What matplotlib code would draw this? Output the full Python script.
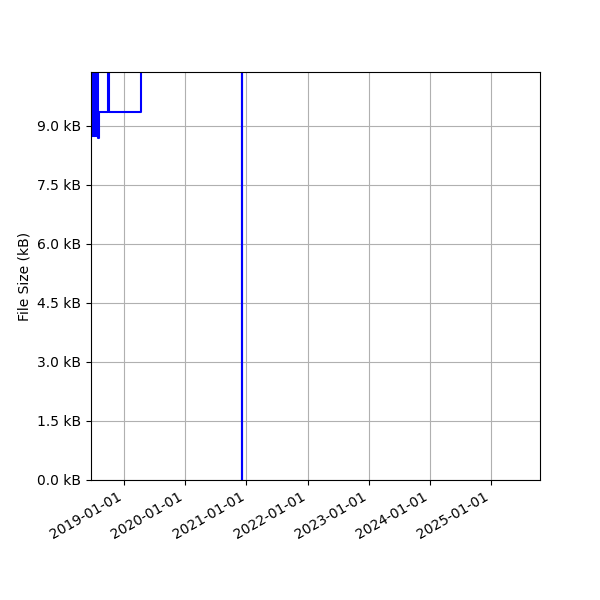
import matplotlib
matplotlib.use("Agg")
import matplotlib.pyplot as plt
import matplotlib.dates as mdates
import matplotlib.ticker as mticker
import numpy as np

# file size history (kB), step-post; values above ~10.4 run off the top
dates = ["2018-06-14", "2018-06-17", "2018-06-19", "2018-06-21", "2018-06-23",
         "2018-06-25", "2018-06-27", "2018-06-29", "2018-07-01", "2018-07-03",
         "2018-07-05", "2018-07-07", "2018-07-09", "2018-07-11", "2018-07-13",
         "2018-07-15", "2018-07-17", "2018-07-19", "2018-07-21", "2018-07-26",
         "2018-08-04", "2018-09-25", "2018-09-30", "2019-04-09",
         "2020-12-04", "2020-12-06", "2025-06-01"]
sizes_kb = [12.0, 8.74, 12.0, 8.74, 12.0,
            8.74, 12.0, 8.74, 12.0, 8.74,
            12.0, 8.74, 12.0, 8.74, 12.0,
            8.74, 12.0, 8.74, 12.0, 8.68,
            9.36, 12.0, 9.36, 12.0,
            0.0, 12.0, 12.0]

x = np.array(dates, dtype="datetime64[D]")

fig = plt.figure(figsize=(6, 6), dpi=100)
ax = fig.add_subplot(1, 1, 1)
ax.plot(x, sizes_kb, color="blue", drawstyle="steps-post", linewidth=1.5)

ax.set_ylabel("File Size (kB)")
ax.yaxis.set_major_locator(mticker.MultipleLocator(1.5))
ax.yaxis.set_major_formatter(mticker.FuncFormatter(lambda v, _: f"{v:.1f} kB"))
ax.set_ylim(0, 10.37)

ax.xaxis.set_major_locator(mdates.YearLocator())
ax.xaxis.set_major_formatter(mdates.DateFormatter("%Y-%m-%d"))
ax.set_xlim(np.datetime64("2018-06-18"), np.datetime64("2025-10-21"))
ax.grid(True)

fig.autofmt_xdate()
fig.subplots_adjust(left=0.152, right=0.9, top=0.88, bottom=0.2)
fig.savefig("out.png", dpi=100)
